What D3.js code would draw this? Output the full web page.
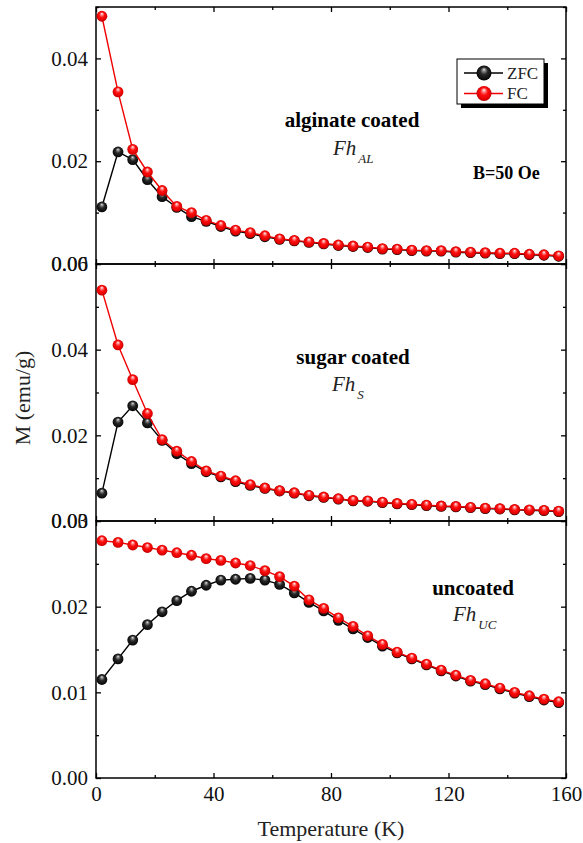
<!DOCTYPE html>
<html>
<head>
<meta charset="utf-8">
<script src="https://cdn.jsdelivr.net/npm/d3@7"></script>
<style>
body { margin: 0; background: #fff; }
svg { font-family: "Liberation Serif", "Times New Roman", serif; }
</style>
</head>
<body>
<div id="chart"></div>
<script>
// temperature (K) of each measured point
const temps = [2, 7.5, 12.5, 17.5, 22.5, 27.5, 32.5, 37.5, 42.5, 47.5, 52.5, 57.5, 62.5, 67.5, 72.5, 77.5,
    82.5, 87.5, 92.5, 97.5, 102.5, 107.5, 112.5, 117.5, 122.5, 127.5, 132.5, 137.5, 142.5, 147.5, 152.5, 157.5];

// alginate coated
const zfcAL = [0.0111, 0.0218, 0.0203, 0.0164, 0.0131, 0.0110, 0.0092, 0.0083, 0.0073, 0.0064, 0.0059, 0.0053, 0.0048, 0.0045, 0.0042, 0.0039,
    0.0036, 0.0034, 0.0032, 0.0029, 0.0028, 0.0026, 0.0025, 0.0025, 0.0023, 0.0022, 0.0021, 0.0020, 0.0020, 0.0018, 0.0017, 0.0015];
const fcAL = [0.0482, 0.0335, 0.0223, 0.0179, 0.0143, 0.0112, 0.0100, 0.0085, 0.0075, 0.0066, 0.0061, 0.0055, 0.0049, 0.0046, 0.0043, 0.0040,
    0.0037, 0.0035, 0.0033, 0.0030, 0.0029, 0.0027, 0.0026, 0.0026, 0.0024, 0.0023, 0.0022, 0.0021, 0.0021, 0.0019, 0.0018, 0.0016];

// sugar coated
const zfcS = [0.0065, 0.0231, 0.0269, 0.0229, 0.0188, 0.0157, 0.0134, 0.0115, 0.0103, 0.0092, 0.0083, 0.0076, 0.0070, 0.0065, 0.0059, 0.0055,
    0.0051, 0.0047, 0.0046, 0.0043, 0.0040, 0.0038, 0.0036, 0.0034, 0.0033, 0.0031, 0.0029, 0.0028, 0.0026, 0.0025, 0.0024, 0.0022];
const fcS = [0.0539, 0.0411, 0.0330, 0.0251, 0.0190, 0.0163, 0.0139, 0.0117, 0.0105, 0.0094, 0.0085, 0.0077, 0.0071, 0.0066, 0.0060, 0.0056,
    0.0052, 0.0048, 0.0047, 0.0044, 0.0041, 0.0039, 0.0037, 0.0035, 0.0034, 0.0032, 0.0030, 0.0029, 0.0027, 0.0026, 0.0025, 0.0023];

// uncoated
const zfcUC = [0.0115, 0.0139, 0.0161, 0.0179, 0.0194, 0.0207, 0.0218, 0.0225, 0.0231, 0.0232, 0.0233, 0.0231, 0.0226, 0.0216, 0.0205, 0.0195,
    0.0184, 0.0174, 0.0164, 0.0154, 0.0146, 0.0139, 0.0132, 0.0125, 0.0119, 0.0113, 0.0109, 0.0104, 0.0099, 0.0095, 0.0091, 0.0088];
const fcUC = [0.0277, 0.0275, 0.0272, 0.0269, 0.0266, 0.0263, 0.0260, 0.0256, 0.0254, 0.0251, 0.0248, 0.0242, 0.0235, 0.0224, 0.0208, 0.0198,
    0.0187, 0.0177, 0.0166, 0.0156, 0.0147, 0.0140, 0.0133, 0.0126, 0.0120, 0.0114, 0.0110, 0.0105, 0.0100, 0.0096, 0.0092, 0.0089];

// axes
const xTicks = [0, 40, 80, 120, 160];
const xMinorTicks = [20, 60, 100, 140];
const yTicksAL = [0, 0.02, 0.04];
const yMinorAL = [0.01, 0.03, 0.05];
const yTicksS = [0, 0.02, 0.04, 0.06];
const yMinorS = [0.01, 0.03, 0.05];
const yTicksUC = [0, 0.01, 0.02, 0.03];
const yMinorUC = [0.005, 0.015, 0.025];
const yMax = [0.05, 0.06, 0.03];

const panelNames = ["alginate coated", "sugar coated", "uncoated"];
const panelSubs = ["AL", "S", "UC"];
const seriesNames = ["ZFC", "FC"];

const ChartConfig = {
    width: 583,
    height: 843,
    left: 96,
    right: 566,
    top: 7,
    panelHeight: 257,
    markerR: 5.4,
    colors: {ZFC: "#000", FC: "#f00000"},
    // label placement per panel: [name centre x, name baseline, Fh x, Fh baseline]
    labels: [[352, 127, 333, 155], [353, 364, 332, 391], [473, 595, 453, 621]]
};

const panels = [
    {zfc: zfcAL, fc: fcAL, ticks: yTicksAL, minor: yMinorAL, max: yMax[0]},
    {zfc: zfcS, fc: fcS, ticks: yTicksS, minor: yMinorS, max: yMax[1]},
    {zfc: zfcUC, fc: fcUC, ticks: yTicksUC, minor: yMinorUC, max: yMax[2]}
];

const svg = d3.select("#chart")
    .append("svg")
    .attr("width", ChartConfig.width)
    .attr("height", ChartConfig.height);

let defs = svg.append("defs");
function sphereGradient(id, stops) {
    let grad = defs.append("radialGradient").attr("id", id)
        .attr("cx", "50%").attr("cy", "50%").attr("r", "55%")
        .attr("fx", "50%").attr("fy", "25%");
    grad.selectAll("stop").data(stops).enter().append("stop")
        .attr("offset", d => d[0]).attr("stop-color", d => d[1]);
}
sphereGradient("ball-FC", [["0%", "#ffffff"], ["18%", "#ff9090"], ["45%", "#ff1010"], ["80%", "#e00000"], ["100%", "#a00000"]]);
sphereGradient("ball-ZFC", [["0%", "#e8e8e8"], ["18%", "#8a8a8a"], ["45%", "#282828"], ["100%", "#000000"]]);

const x = d3.scaleLinear().domain([0, 160]).range([ChartConfig.left, ChartConfig.right]);

panels.forEach((p, i) => {
    let y0 = ChartConfig.top + i * ChartConfig.panelHeight;
    let y1 = y0 + ChartConfig.panelHeight;
    let y = d3.scaleLinear().domain([0, p.max]).range([y1, y0]);
    let g = svg.append("g").attr("class", "panel");
    let last = i === panels.length - 1;

    // major + minor ticks on all four sides, pointing inward
    let axes = [
        [d3.axisLeft(y).tickValues(p.ticks).tickFormat(d3.format(".2f")), `translate(${ChartConfig.left},0)`, 5],
        [d3.axisLeft(y).tickValues(p.minor).tickFormat(""), `translate(${ChartConfig.left},0)`, 3],
        [d3.axisRight(y).tickValues(p.ticks).tickFormat(""), `translate(${ChartConfig.right},0)`, 5],
        [d3.axisRight(y).tickValues(p.minor).tickFormat(""), `translate(${ChartConfig.right},0)`, 3],
        [d3.axisTop(x).tickValues(xTicks).tickFormat(""), `translate(0,${y0})`, 5],
        [d3.axisTop(x).tickValues(xMinorTicks).tickFormat(""), `translate(0,${y0})`, 3],
        [d3.axisBottom(x).tickValues(xTicks).tickFormat(last ? d3.format("d") : ""), `translate(0,${y1})`, 5],
        [d3.axisBottom(x).tickValues(xMinorTicks).tickFormat(""), `translate(0,${y1})`, 3]
    ];
    axes.forEach(a => {
        let ax = g.append("g").attr("transform", a[1])
            .call(a[0].tickSizeInner(-a[2]).tickSizeOuter(0).tickPadding(8));
        ax.select(".domain").remove();
        ax.selectAll(".tick line").attr("stroke", "#000").attr("stroke-width", 1.3);
        ax.selectAll("text").attr("fill", "#111").style("font-size", "21px")
            .style("font-family", "'Liberation Serif', 'Times New Roman', serif");
    });

    g.append("rect")
        .attr("x", ChartConfig.left).attr("y", y0)
        .attr("width", ChartConfig.right - ChartConfig.left).attr("height", y1 - y0)
        .attr("fill", "none").attr("stroke", "#000").attr("stroke-width", 1.5);

    let line = d3.line().x(d => x(d[0])).y(d => y(d[1]));
    [["ZFC", p.zfc], ["FC", p.fc]].forEach(s => {
        let pts = temps.map((t, k) => [t, s[1][k]]);
        g.append("path").datum(pts)
            .attr("fill", "none")
            .attr("stroke", ChartConfig.colors[s[0]])
            .attr("stroke-width", 1.4)
            .attr("d", line);
        g.append("g").selectAll("circle").data(pts).enter().append("circle")
            .attr("cx", d => x(d[0])).attr("cy", d => y(d[1]))
            .attr("r", ChartConfig.markerR)
            .attr("fill", `url(#ball-${s[0]})`);
    });

    let lab = ChartConfig.labels[i];
    g.append("text").attr("x", lab[0]).attr("y", lab[1])
        .attr("text-anchor", "middle")
        .style("font-weight", "bold").style("font-size", "21px")
        .text(panelNames[i]);
    let fh = g.append("text").attr("x", lab[2]).attr("y", lab[3])
        .style("font-style", "italic").style("font-size", "21px").attr("fill", "#222");
    fh.append("tspan").text("Fh");
    fh.append("tspan").attr("dx", 2).attr("dy", 8).style("font-size", "13px").text(panelSubs[i]);
});

// field annotation
svg.append("text").attr("x", 473).attr("y", 179)
    .style("font-weight", "bold").style("font-size", "18px")
    .text("B=50 Oe");

// legend with drop shadow
let legend = svg.append("g").attr("class", "legend").attr("transform", "translate(457,59)");
legend.append("rect").attr("x", 4).attr("y", 4).attr("width", 87).attr("height", 45).attr("fill", "#000");
legend.append("rect").attr("x", 0).attr("y", 0).attr("width", 87).attr("height", 45)
    .attr("fill", "#fff").attr("stroke", "#000").attr("stroke-width", 1);
seriesNames.forEach((name, k) => {
    let ly = 14 + k * 20.5;
    legend.append("line").attr("x1", 7).attr("x2", 46).attr("y1", ly).attr("y2", ly)
        .attr("stroke", ChartConfig.colors[name]).attr("stroke-width", 1.3);
    legend.append("circle").attr("cx", 27).attr("cy", ly).attr("r", 7.5)
        .attr("fill", `url(#ball-${name})`);
    legend.append("text").attr("x", 50).attr("y", ly + 5.5)
        .style("font-size", "17px").attr("fill", "#222").text(name);
});

// axis titles
svg.append("text")
    .attr("x", (ChartConfig.left + ChartConfig.right) / 2).attr("y", 836)
    .attr("text-anchor", "middle").style("font-size", "22px").attr("fill", "#222")
    .text("Temperature (K)");
svg.append("text")
    .attr("transform", "translate(30,398) rotate(-90)")
    .attr("text-anchor", "middle").style("font-size", "22px").attr("fill", "#222")
    .text("M (emu/g)");
</script>
</body>
</html>
